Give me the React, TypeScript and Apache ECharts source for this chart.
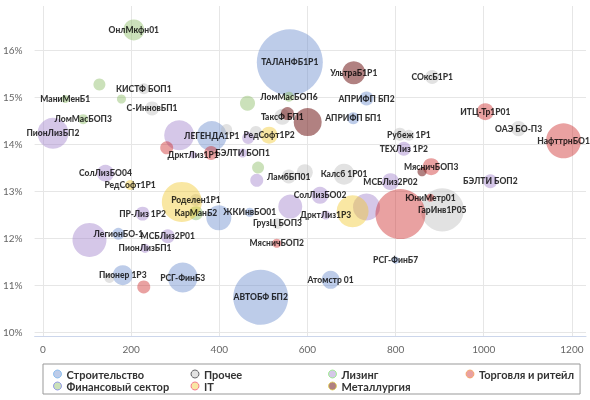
import React, { useEffect, useRef } from "react";
import * as echarts from "echarts";

// [name, x, yield %, volume]
type Row = [string, number, number, number];

const stroitelstvo: Row[] = [
  ["ТАЛАНФБ1Р1", 560, 15.74, 121],
  ["АПРИФП БП2", 734, 14.97, 5.4],
  ["АПРИФП БП1", 704, 14.55, 4.0],
  ["ЛЕГЕНДА1Р1", 383, 14.17, 25],
  ["ЖКИнвБО01", 469, 12.55, 2.3],
  ["", 399, 12.43, 17.4],
  ["ЛегионБО-1", 171, 12.09, 4.0],
  ["Пионер 1Р3", 181, 11.21, 11.1],
  ["РСГ-ФинБ3", 317, 11.16, 25],
  ["АВТОБФ БП2", 494, 10.74, 84],
  ["Атомстр 01", 652.6, 11.11, 9.0],
  ["РСГ-ФинБ7", 800, 11.53, 1.4],
];

const prochee: Row[] = [
  ["КИСТФ БОП1", 228.7, 15.18, 3.4],
  ["С-ИнновБП1", 247.5, 14.76, 5.4],
  ["", 416.5, 14.31, 3.4],
  ["", 483, 14.26, 4.0],
  ["ТаксФ БП1", 543, 14.58, 7.1],
  ["СОксБ1Р1", 883, 15.43, 5.4],
  ["ОАЭ БО-П3", 1079, 14.33, 6.3],
  ["", 809.6, 14.21, 4.7],
  ["Рубеж 1Р1", 830, 14.19, 3.4],
  ["ЛамбБП01", 557.6, 13.31, 5.4],
  ["", 594, 13.4, 7.1],
  ["Калсб 1Р01", 683, 13.36, 12.3],
  ["ГарИнв1Р05", 906, 12.6, 51.4],
  ["Роделен1Р1", 347, 12.81, 4.0],
  ["ГрузЦ БОП3", 532, 12.31, 3.4],
  ["", 150.8, 11.15, 2.8],
];

const lizing: Row[] = [
  ["ПионЛизБП2", 22.6, 14.23, 26.7],
  ["", 309, 14.19, 25],
  ["ДрктЛиз1Р1", 340.6, 13.77, 1.4],
  ["БЭЛТИ БОП1", 452.8, 13.81, 2.3],
  ["", 465.5, 14.13, 4.0],
  ["ТЕХЛиз 1Р2", 818.7, 13.9, 5.4],
  ["МСБЛиз2Р02", 788.5, 13.2, 8.0],
  ["БЭЛТИ БОП2", 1015, 13.21, 5.4],
  ["", 485, 13.23, 4.7],
  ["СолЛизБО04", 141.7, 13.38, 8.0],
  ["ПР-Лиз 1Р2", 226, 12.52, 5.4],
  ["", 105.5, 11.96, 32.1],
  ["МСБЛиз2Р01", 283, 12.04, 5.4],
  ["ПионЛизБП1", 231.6, 11.78, 2.3],
  ["", 561, 12.67, 16],
  ["СолЛизБО02", 628.5, 12.91, 8.0],
  ["ДрктЛиз1Р3", 641.4, 12.49, 2.3],
  ["", 734, 12.66, 20.3],
];

const torgovlya: Row[] = [
  ["", 280.7, 13.92, 4.7],
  ["", 381.5, 13.81, 5.4],
  ["ИТЦ-Тр1Р01", 1003.6, 14.69, 8.0],
  ["НафттрнБО1", 1181, 14.07, 34],
  ["МясничБОП3", 880.7, 13.52, 8.0],
  ["", 811, 12.51, 69.4],
  ["ЮниМетр01", 879, 12.86, 1.8],
  ["МясничБОП2", 530.4, 11.89, 2.3],
  ["", 228.6, 10.96, 4.7],
];

const finansy: Row[] = [
  ["ОнлМкфн01", 206, 16.43, 12.3],
  ["", 128, 15.27, 4.0],
  ["МаниМенБ1", 50.5, 14.96, 1.8],
  ["", 178, 14.96, 2.3],
  ["ЛомМасБОП3", 91.2, 14.53, 2.8],
  ["", 464, 14.87, 6.3],
  ["ЛомМасБОП6", 558, 15.01, 2.8],
  ["", 488, 13.5, 4.0],
  ["КарМанБ2", 347, 12.53, 5.4],
];

const it: Row[] = [
  ["РедСофт1Р2", 513, 14.19, 8.0],
  ["РедСофт1Р1", 197.6, 13.13, 2.8],
  ["", 315, 12.77, 44.4],
  ["", 702.5, 12.57, 28.4],
];

const metallurgiya: Row[] = [
  ["УльтраБ1Р1", 705, 15.52, 14.7],
  ["", 554.6, 14.65, 4.7],
  ["", 600.6, 14.47, 21.8],
  ["", 860, 13.41, 2.3],
];

const sectorNames = [
  "Строительство",
  "Прочее",
  "Лизинг",
  "Торговля и ритейл",
  "Финансовый сектор",
  "IT",
  "Металлургия",
];
const sectorRows = [stroitelstvo, prochee, lizing, torgovlya, finansy, it, metallurgiya];

const xTicks = [0, 200, 400, 600, 800, 1000, 1200];
const yTicks = [10, 11, 12, 13, 14, 15, 16];

// styles
const fills = [
  [104, 140, 206],
  [188, 188, 188],
  [160, 128, 202],
  [206, 42, 42],
  [137, 186, 97],
  [242, 200, 46],
  [116, 31, 31],
];
const alphas = [0.55, 0.55, 0.55, 0.55, 0.55, 0.55, 0.7];
const iconBorders = ["#7cb5ec", "#434348", "#90ed7d", "#f7a35c", "#8085e9", "#f15c80", "#e4d354"];
const SIZE_K = 6;

const rgba = (c: number[], a: number) => `rgba(${c[0]},${c[1]},${c[2]},${a})`;

export default function App() {
  const ref = useRef<HTMLDivElement>(null);

  useEffect(() => {
    if (!ref.current) return;
    const chart = echarts.init(ref.current, null, { renderer: "svg" });

    const series = sectorNames.map((name, i) => ({
      name,
      type: "scatter",
      symbol: "circle",
      symbolSize: (v: number[]) => SIZE_K * Math.sqrt(v[2]),
      itemStyle: { color: rgba(fills[i], alphas[i]) },
      emphasis: { disabled: true },
      label: {
        show: true,
        position: "inside",
        formatter: (p: any) => p.name,
        fontFamily: "Lato",
        fontWeight: 900,
        fontSize: 8.5,
        color: "#000",
      },
      data: sectorRows[i].map((r) => ({
        name: r[0],
        value: [r[1], r[2], r[3]],
        label: { show: r[0] !== "" },
      })),
    }));

    const legendData = sectorNames.map((name, i) => ({
      name,
      itemStyle: {
        color: rgba(fills[i], alphas[i]),
        borderColor: iconBorders[i],
        borderWidth: 1,
      },
      textStyle: i % 4 === 3 || i === 6 ? {} : { width: 124 },
    }));

    chart.setOption({
      animation: false,
      textStyle: { fontFamily: "Lato" },
      grid: { left: 33, right: 4, top: 6, bottom: 64, containLabel: false },
      xAxis: {
        type: "value",
        min: -19,
        max: 1232,
        axisLine: { show: true, lineStyle: { color: "#ccd6eb", width: 1 } },
        axisTick: { show: false, customValues: xTicks },
        axisLabel: {
          customValues: xTicks,
          formatter: (v: number) => String(v),
          color: "#666",
          fontSize: 10,
          fontFamily: "Lato",
          margin: 8,
        },
        splitLine: { show: true, lineStyle: { color: "#e6e6e6", width: 1 } },
      },
      yAxis: {
        type: "value",
        min: 9.915,
        max: 16.94,
        axisLine: { show: false },
        axisTick: { show: false, customValues: yTicks },
        axisLabel: {
          customValues: yTicks,
          formatter: (v: number) => v + "%",
          color: "#666",
          fontSize: 10,
          fontFamily: "Lato",
          margin: 12,
        },
        splitLine: { show: true, lineStyle: { color: "#e6e6e6", width: 1 } },
      },
      legend: {
        left: 43,
        top: 364,
        width: 530,
        padding: [4, 6, 2, 10],
        borderColor: "#999",
        borderWidth: 1,
        itemWidth: 8,
        itemHeight: 8,
        itemGap: 0,
        icon: "circle",
        selectedMode: false,
        textStyle: {
          fontFamily: "Lato",
          fontWeight: "bold",
          fontSize: 11,
          color: "#333",
          lineHeight: 12,
        },
        data: legendData,
      },
      series,
    });

    return () => chart.dispose();
  }, []);

  return (
    <div
      ref={ref}
      style={{ position: "fixed", left: 0, top: 0, width: 590, height: 400 }}
    />
  );
}
